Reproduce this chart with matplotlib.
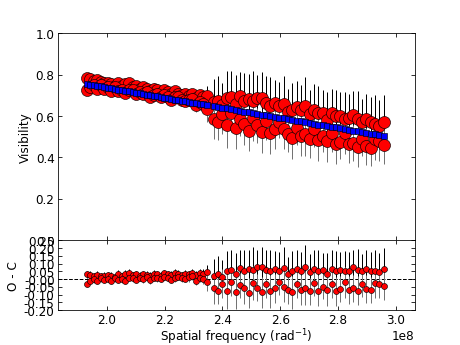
import numpy as np
import matplotlib
matplotlib.use('Agg')
import matplotlib.pyplot as plt

# spatial frequency in units of 1e8 rad^-1
freq_left = [1.930, 1.942, 1.955, 1.967, 1.979, 1.991, 2.003, 2.016, 2.028, 2.040,
             2.052, 2.064, 2.077, 2.089, 2.101, 2.113, 2.125, 2.138, 2.150, 2.162,
             2.174, 2.186, 2.199, 2.211, 2.223, 2.235, 2.247, 2.260, 2.272, 2.284,
             2.296, 2.308, 2.321, 2.333, 2.345]
model_left = [0.755, 0.752, 0.749, 0.746, 0.743, 0.740, 0.737, 0.734, 0.731, 0.728,
              0.725, 0.722, 0.719, 0.716, 0.713, 0.710, 0.707, 0.704, 0.701, 0.698,
              0.695, 0.692, 0.689, 0.686, 0.683, 0.680, 0.677, 0.674, 0.671, 0.668,
              0.665, 0.662, 0.659, 0.656, 0.653]
vis_hi_left = [0.785, 0.777, 0.769, 0.774, 0.765, 0.758, 0.762, 0.754, 0.746, 0.758,
               0.747, 0.757, 0.759, 0.741, 0.743, 0.730, 0.739, 0.732, 0.723, 0.733,
               0.725, 0.710, 0.727, 0.716, 0.708, 0.720, 0.709, 0.702, 0.706, 0.698,
               0.705, 0.687, 0.701, 0.691, 0.698]
vis_lo_left = [0.725, 0.742, 0.749, 0.731, 0.748, 0.732, 0.739, 0.722, 0.739, 0.723,
               0.725, 0.712, 0.724, 0.726, 0.708, 0.718, 0.707, 0.716, 0.693, 0.703,
               0.705, 0.692, 0.704, 0.694, 0.678, 0.690, 0.692, 0.679, 0.671, 0.680,
               0.683, 0.652, 0.669, 0.656, 0.633]
err_hi_left = [0.020, 0.025, 0.018, 0.022, 0.020, 0.028, 0.018, 0.024, 0.020, 0.026,
               0.019, 0.023, 0.027, 0.020, 0.022, 0.025, 0.018, 0.024, 0.021, 0.026,
               0.020, 0.028, 0.022, 0.019, 0.025, 0.023, 0.027, 0.020, 0.024, 0.022,
               0.026, 0.030, 0.025, 0.028, 0.045]
err_lo_left = [0.022, 0.018, 0.024, 0.020, 0.026, 0.019, 0.023, 0.021, 0.025, 0.018,
               0.024, 0.022, 0.020, 0.026, 0.019, 0.023, 0.025, 0.020, 0.022, 0.018,
               0.026, 0.021, 0.024, 0.020, 0.023, 0.027, 0.019, 0.025, 0.022, 0.028,
               0.024, 0.030, 0.026, 0.035, 0.060]

freq_right = [2.370, 2.385, 2.400, 2.415, 2.430, 2.446, 2.461, 2.476, 2.491, 2.506,
              2.521, 2.536, 2.551, 2.566, 2.581, 2.597, 2.612, 2.627, 2.642, 2.657,
              2.672, 2.687, 2.702, 2.717, 2.732, 2.748, 2.763, 2.778, 2.793, 2.808,
              2.823, 2.838, 2.853, 2.868, 2.883, 2.899, 2.914, 2.929, 2.944, 2.960]
model_right = [0.648, 0.644, 0.640, 0.637, 0.633, 0.629, 0.626, 0.622, 0.618, 0.615,
               0.611, 0.607, 0.604, 0.600, 0.596, 0.592, 0.589, 0.585, 0.581, 0.578,
               0.574, 0.570, 0.567, 0.563, 0.559, 0.556, 0.552, 0.548, 0.545, 0.541,
               0.537, 0.534, 0.530, 0.526, 0.523, 0.519, 0.515, 0.512, 0.508, 0.504]
vis_hi_right = [0.668, 0.674, 0.655, 0.687, 0.693, 0.659, 0.696, 0.672, 0.683, 0.675,
                0.686, 0.687, 0.664, 0.650, 0.661, 0.647, 0.659, 0.620, 0.631, 0.643,
                0.629, 0.650, 0.612, 0.628, 0.614, 0.616, 0.582, 0.613, 0.600, 0.601,
                0.587, 0.589, 0.605, 0.586, 0.573, 0.584, 0.570, 0.562, 0.553, 0.569]
vis_lo_right = [0.588, 0.569, 0.610, 0.557, 0.613, 0.544, 0.586, 0.562, 0.528, 0.590,
                0.556, 0.522, 0.574, 0.520, 0.536, 0.572, 0.539, 0.515, 0.496, 0.543,
                0.504, 0.515, 0.487, 0.538, 0.484, 0.506, 0.482, 0.518, 0.465, 0.476,
                0.517, 0.464, 0.470, 0.451, 0.488, 0.454, 0.445, 0.487, 0.478, 0.459]
err_hi_right = [0.110, 0.120, 0.105, 0.130, 0.125, 0.140, 0.115, 0.135, 0.120, 0.145,
                0.110, 0.125, 0.130, 0.140, 0.115, 0.120, 0.135, 0.110, 0.130, 0.125,
                0.120, 0.140, 0.115, 0.125, 0.130, 0.110, 0.135, 0.120, 0.125, 0.115,
                0.130, 0.120, 0.115, 0.135, 0.110, 0.125, 0.120, 0.140, 0.125, 0.135]
err_lo_right = [0.100, 0.085, 0.095, 0.110, 0.090, 0.105, 0.080, 0.100, 0.095, 0.110,
                0.085, 0.100, 0.090, 0.105, 0.095, 0.080, 0.100, 0.090, 0.105, 0.085,
                0.095, 0.110, 0.090, 0.085, 0.100, 0.080, 0.105, 0.090, 0.095, 0.085,
                0.100, 0.090, 0.085, 0.095, 0.080, 0.090, 0.085, 0.100, 0.095, 0.090]

freq = np.array(freq_left + freq_right) * 1e8
model = np.array(model_left + model_right)
vis_hi = np.array(vis_hi_left + vis_hi_right)
vis_lo = np.array(vis_lo_left + vis_lo_right)
err_hi = np.array(err_hi_left + err_hi_right)
err_lo = np.array(err_lo_left + err_lo_right)

plt.rcParams['font.family'] = 'DejaVu Sans'
plt.rcParams['font.size'] = 12
plt.rcParams['xtick.direction'] = 'in'
plt.rcParams['ytick.direction'] = 'in'
plt.rcParams['xtick.top'] = True
plt.rcParams['ytick.right'] = True
plt.rcParams['xtick.major.size'] = 4
plt.rcParams['ytick.major.size'] = 4

fig = plt.figure(figsize=(6.4, 4.8), dpi=72)
ax1 = fig.add_axes([0.126, 0.303, 0.774, 0.599])
ax2 = fig.add_axes([0.126, 0.101, 0.774, 0.202], sharex=ax1)

# visibilities + model
ax1.errorbar(freq, vis_hi, yerr=err_hi, fmt='none', ecolor='k', elinewidth=1, zorder=1)
ax1.errorbar(freq, vis_lo, yerr=err_lo, fmt='none', ecolor='0.45', elinewidth=1, zorder=1)
ax1.plot(freq, vis_hi, 'o', color='red', mec='k', mew=0.6, ms=12, zorder=2)
ax1.plot(freq, vis_lo, 'o', color='red', mec='k', mew=0.6, ms=12, zorder=2)
ax1.plot(freq, model, 's', color='blue', mec='k', mew=0.6, ms=6, zorder=3)
ax1.set_ylim(0, 1.0)
ax1.set_yticks([0.0, 0.2, 0.4, 0.6, 0.8, 1.0])
ax1.set_ylabel('Visibility')
ax1.tick_params(labelbottom=False)

# residuals O - C
res_hi = vis_hi - model
res_lo = vis_lo - model
ax2.errorbar(freq, res_hi, yerr=err_hi, fmt='none', ecolor='k', elinewidth=1, zorder=1)
ax2.errorbar(freq, res_lo, yerr=err_lo, fmt='none', ecolor='0.45', elinewidth=1, zorder=1)
ax2.plot(freq, res_hi, 'o', color='red', mec='k', mew=0.6, ms=6, zorder=2)
ax2.plot(freq, res_lo, 'o', color='red', mec='k', mew=0.6, ms=6, zorder=2)
ax2.axhline(0, color='k', ls='--', lw=1, zorder=0)
ax2.set_ylim(-0.2, 0.25)
ax2.set_yticks(np.arange(-0.20, 0.26, 0.05))
ax2.yaxis.set_major_formatter(matplotlib.ticker.FormatStrFormatter('%.2f'))
ax2.set_xlim(1.831e8, 3.066e8)
ax2.set_xticks([2.0e8, 2.2e8, 2.4e8, 2.6e8, 2.8e8, 3.0e8])
ax2.set_ylabel('O - C')
ax2.set_xlabel('Spatial frequency (rad$^{-1}$)', labelpad=0)

fig.savefig('out.png', dpi=72)
